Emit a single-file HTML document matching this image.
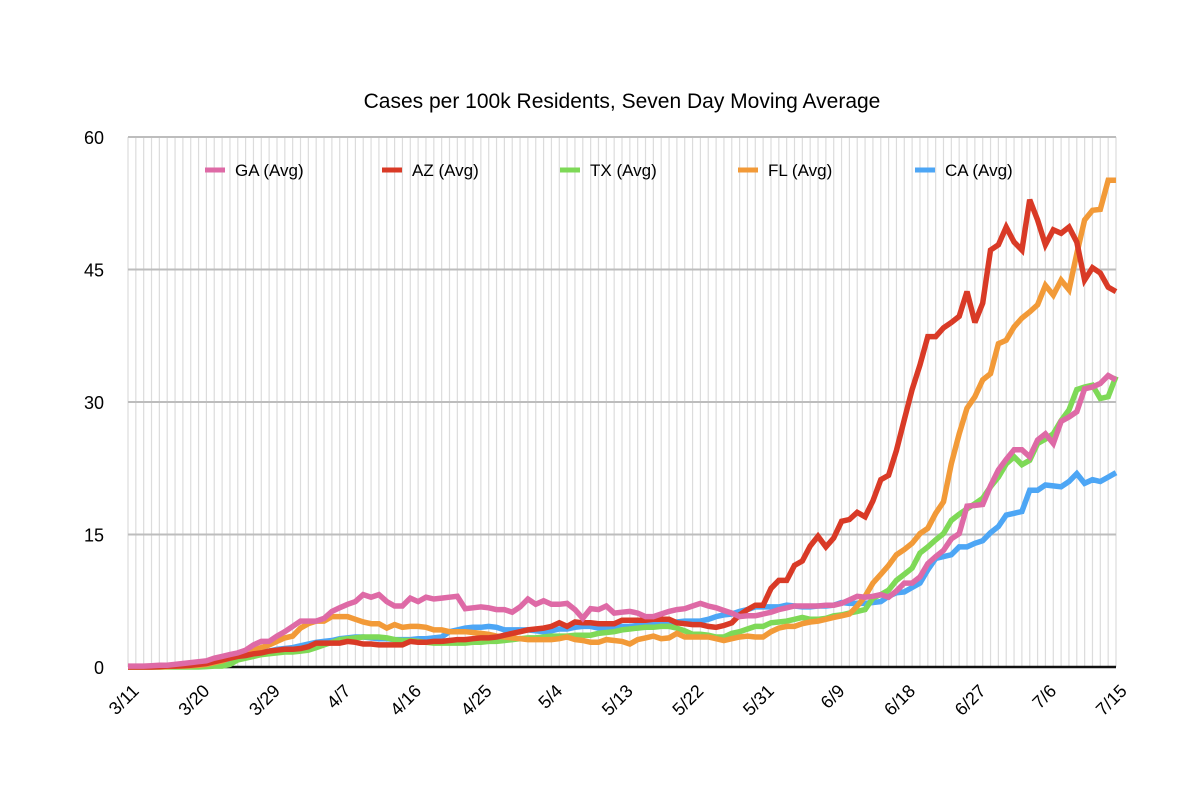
<!DOCTYPE html>
<html><head><meta charset="utf-8">
<style>
body{margin:0;background:#fff;}
svg{display:block;font-family:"Liberation Sans",Arial,sans-serif;}
</style></head>
<body>
<svg id="chart" width="1200" height="787">
<text x="622" y="108" font-size="21" text-anchor="middle" fill="#000">Cases per 100k Residents, Seven Day Moving Average</text>
<g id="grid"></g><g id="axes"></g><g id="series"></g><g id="legend"></g>
</svg>
<script>
const dateLabels=["3/11","3/20","3/29","4/7","4/16","4/25","5/4","5/13","5/22","5/31","6/9","6/18","6/27","7/6","7/15"];
const yTicks=[0,15,30,45,60];
const seriesNames=["CA (Avg)","TX (Avg)","FL (Avg)","AZ (Avg)","GA (Avg)"];
const GA=[0.1,0.1,0.1,0.15,0.2,0.2,0.3,0.4,0.5,
0.6,0.7,1.0,1.2,1.4,1.6,1.9,2.5,2.9,
2.9,3.5,4.0,4.6,5.2,5.2,5.2,5.5,6.3,
6.7,7.1,7.4,8.2,7.9,8.2,7.4,6.9,6.9,
7.8,7.4,7.9,7.7,7.8,7.9,8.0,6.6,6.7,
6.8,6.7,6.5,6.5,6.2,6.8,7.7,7.1,7.5,
7.1,7.1,7.2,6.5,5.5,6.6,6.5,6.9,6.1,
6.2,6.3,6.1,5.7,5.7,6.0,6.3,6.5,6.6,
6.9,7.2,6.9,6.7,6.4,6.1,5.7,5.8,5.8,
6.0,6.2,6.5,6.7,6.9,6.9,6.9,6.9,7.0,
7.0,7.2,7.6,8.0,7.9,8.0,8.2,7.9,8.6,
9.5,9.5,10.2,11.7,12.5,13.2,14.5,15.1,18.2,
18.3,18.4,20.5,22.3,23.5,24.6,24.6,23.8,25.7,
26.4,25.3,27.8,28.3,28.9,31.5,31.7,32.1,33,32.5];
const AZ=[0,0,0,0,0.05,0.1,0.1,0.15,0.2,
0.3,0.4,0.6,0.8,1.0,1.2,1.3,1.5,1.6,
1.8,1.9,2.0,2.0,2.1,2.3,2.7,2.7,2.7,
2.7,2.9,2.8,2.6,2.6,2.5,2.5,2.5,2.5,
2.9,2.8,2.8,2.9,2.9,3.0,3.1,3.1,3.2,
3.3,3.3,3.4,3.6,3.8,4.0,4.2,4.3,4.4,
4.6,5.0,4.6,5.1,5.0,5.0,4.9,4.9,4.9,
5.3,5.3,5.3,5.3,5.4,5.4,5.4,5.0,4.9,
4.8,4.8,4.6,4.5,4.7,5.0,5.9,6.5,7.0,
7.0,8.9,9.8,9.8,11.5,12.0,13.7,14.8,13.6,
14.6,16.5,16.7,17.5,17.0,18.8,21.2,21.7,24.5,
28,31.4,34.2,37.4,37.4,38.4,39,39.7,42.5,
39,41.2,47.2,47.8,49.8,48.1,47.2,52.9,50.6,
47.8,49.5,49.1,49.8,48.1,43.8,45.2,44.6,43,42.5];
const TX=[0,0,0,0,0,0,0,0,0,
0,0.05,0.1,0.1,0.3,0.8,1.0,1.2,1.4,
1.5,1.6,1.7,1.7,1.8,1.9,2.2,2.5,2.8,
3.1,3.2,3.3,3.4,3.4,3.4,3.3,3.1,3.0,
3.0,2.9,2.8,2.7,2.7,2.7,2.7,2.7,2.8,
2.8,2.9,2.9,3.0,3.1,3.2,3.3,3.3,3.4,
3.5,3.5,3.5,3.6,3.6,3.6,3.8,3.9,4.0,
4.2,4.3,4.4,4.5,4.5,4.6,4.6,4.4,4.1,
3.7,3.7,3.6,3.4,3.4,3.8,4.0,4.3,4.6,
4.6,5.0,5.1,5.2,5.4,5.6,5.4,5.4,5.5,
5.8,5.9,6.1,6.3,6.5,7.8,8.2,8.7,9.8,
10.5,11.2,12.9,13.6,14.4,15.1,16.6,17.3,17.9,
18.5,19.1,20.4,21.5,23.0,23.8,22.9,23.4,25.3,
25.8,26.4,27.9,29.1,31.4,31.7,31.9,30.4,30.6,32.9];
const FL=[0,0,0,0,0,0.05,0.1,0.1,0.15,
0.2,0.3,0.5,0.7,1.0,1.3,1.6,1.9,2.2,
2.5,2.9,3.3,3.5,4.4,4.9,5.2,5.2,5.7,
5.7,5.7,5.4,5.1,4.9,4.9,4.4,4.8,4.5,
4.6,4.6,4.5,4.2,4.2,4.0,4.0,4.0,3.9,
3.8,3.7,3.5,3.4,3.3,3.2,3.1,3.1,3.1,
3.1,3.2,3.4,3.1,3.0,2.8,2.8,3.1,3.0,
2.9,2.6,3.1,3.3,3.5,3.2,3.3,3.8,3.4,
3.4,3.4,3.4,3.2,3.0,3.2,3.4,3.5,3.4,
3.4,4.0,4.4,4.6,4.6,4.9,5.1,5.2,5.4,
5.6,5.8,6.0,6.9,8.0,9.5,10.5,11.5,12.7,
13.3,14.0,15.1,15.7,17.4,18.7,23.0,26.4,29.3,
30.6,32.5,33.2,36.6,37.0,38.5,39.5,40.2,41.0,
43.2,42.1,43.8,42.7,46.8,50.6,51.7,51.8,55.1,55.1];
const CA=[0,0,0,0,0,0.05,0.1,0.1,0.15,
0.2,0.3,0.5,0.7,0.9,1.1,1.3,1.5,1.7,
1.8,2.0,2.1,2.2,2.4,2.6,2.8,2.9,3.0,
3.2,3.3,3.4,3.4,3.3,3.2,3.2,3.1,3.1,
3.1,3.2,3.2,3.3,3.4,4.0,4.2,4.4,4.5,
4.5,4.6,4.5,4.2,4.2,4.2,4.2,4.1,4.0,
4.1,4.3,4.3,4.5,4.6,4.6,4.4,4.4,4.5,
4.6,4.6,4.7,4.8,4.8,4.8,4.9,5.1,5.2,
5.2,5.2,5.4,5.7,5.9,6.0,6.3,6.5,6.8,
6.8,6.8,6.8,7.0,6.9,6.8,6.8,6.9,6.9,
7.0,7.3,7.2,7.2,7.2,7.3,7.4,8.0,8.4,
8.5,9.0,9.5,11.0,12.3,12.5,12.7,13.6,13.6,
14.0,14.3,15.2,15.9,17.2,17.4,17.6,20.0,20.0,
20.6,20.5,20.4,21.0,21.9,20.8,21.2,21.0,21.5,22.0];

const NS="http://www.w3.org/2000/svg";
const L=128,R=1116,T=137,B=667,YMAX=60,NDAYS=127;
const xS=i=>L+(R-L)*i/(NDAYS-1);
const yS=v=>B-(B-T)*v/YMAX;
function mk(tag,attrs,parent){const e=document.createElementNS(NS,tag);for(const k in attrs)e.setAttribute(k,attrs[k]);parent.appendChild(e);return e;}
const grid=document.getElementById('grid'),axes=document.getElementById('axes'),ser=document.getElementById('series'),leg=document.getElementById('legend');
for(let i=0;i<NDAYS;i++){
  const g=mk('line',{x1:xS(i),x2:xS(i),y1:T,y2:B,stroke:'#dcdcdc','stroke-width':1.2},grid);
  
  
}
yTicks.forEach(t=>{
  if(t>0){const h=mk('line',{x1:L,x2:R,y1:yS(t),y2:yS(t),stroke:'#bdbdbd','stroke-width':2},grid);
  
  }
  const tx=mk('text',{x:104,y:yS(t)+7,'font-size':18,'text-anchor':'end',fill:'#000'},axes);
  tx.textContent=t;
  
  
});
const base=mk('line',{x1:L,x2:R,y1:B,y2:B,stroke:'#111','stroke-width':2.5},axes);


dateLabels.forEach((d,k)=>{
  const x=xS(k*9)+12,y=692;
  const tx=mk('text',{x:x,y:y,'font-size':18,'text-anchor':'end',fill:'#000',transform:`rotate(-45 ${x} ${y})`},axes);
  tx.textContent=d;
  
  
});
const colors={"CA (Avg)":"#4da6f5","TX (Avg)":"#7ed957","FL (Avg)":"#f29a38","AZ (Avg)":"#d93a26","GA (Avg)":"#de6aa6"};
const data={"CA (Avg)":CA,"TX (Avg)":TX,"FL (Avg)":FL,"AZ (Avg)":AZ,"GA (Avg)":GA};
seriesNames.forEach(n=>{
  const pts=data[n].map((v,i)=>xS(i).toFixed(1)+','+yS(v).toFixed(1)).join(' ');
  const p=mk('polyline',{points:pts,fill:'none',stroke:colors[n],'stroke-width':5.5,'stroke-linejoin':'miter','stroke-miterlimit':3},ser);
  
  
});
const legendOrder=["GA (Avg)","AZ (Avg)","TX (Avg)","FL (Avg)","CA (Avg)"];
const legX=[205,382,560,738,915];
legendOrder.forEach((n,k)=>{
  const g=mk('g',{},leg);
  
  
  mk('line',{x1:legX[k],x2:legX[k]+20,y1:170,y2:170,stroke:colors[n],'stroke-width':5},g);
  const t=mk('text',{x:legX[k]+30,y:176,'font-size':17,fill:'#000'},g);
  t.textContent=n;
});
</script>
</body></html>
